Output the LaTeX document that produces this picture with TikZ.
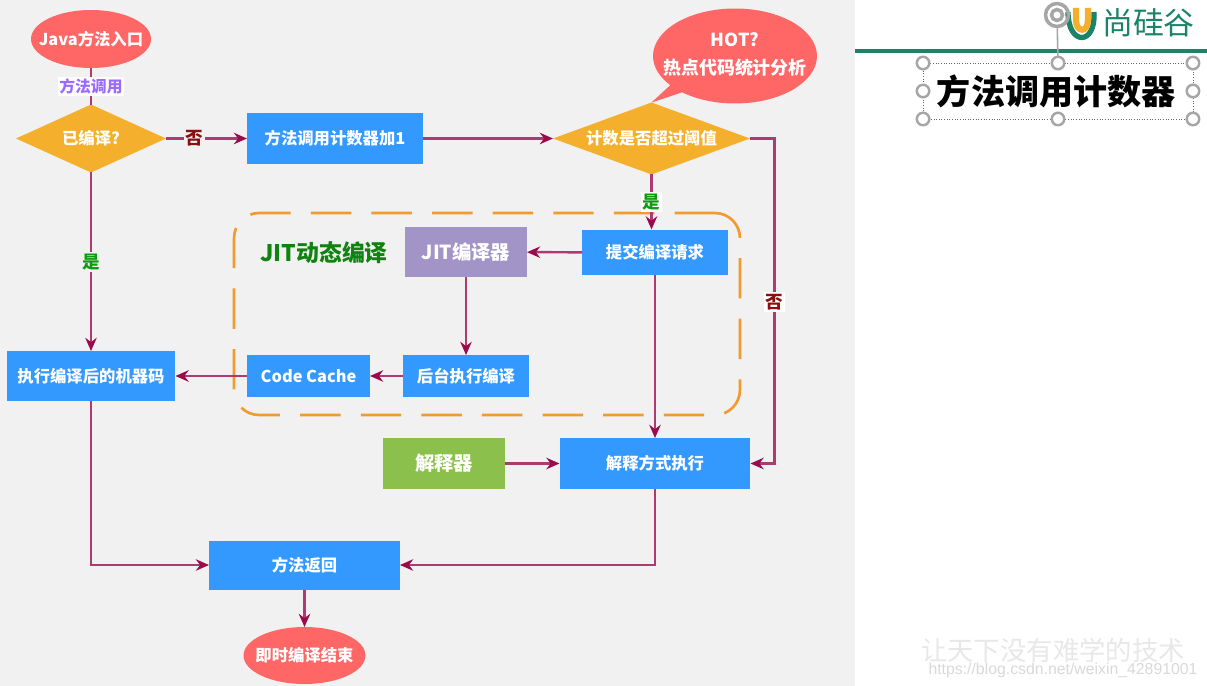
\documentclass[tikz,border=0pt]{standalone}
\usepackage{fontspec}
\setmainfont{Noto Sans CJK SC}
\newfontfamily\urlfont{Liberation Sans}
\usetikzlibrary{arrows.meta}
\usetikzlibrary{shapes.geometric}
\usetikzlibrary{shapes.callouts}
\definecolor{panelgrey}{HTML}{F0F1F0}
\definecolor{boxblue}{HTML}{3399FF}
\definecolor{decisionorange}{HTML}{F4B02D}
\definecolor{endred}{HTML}{FF6666}
\definecolor{jitpurple}{HTML}{A294C6}
\definecolor{interpgreen}{HTML}{8CC04C}
\definecolor{flowline}{HTML}{AE3A72}
\definecolor{flowtip}{HTML}{9B0B4B}
\definecolor{framedash}{HTML}{F29A2E}
\definecolor{logogreen}{HTML}{1A8468}
\definecolor{handlegrey}{HTML}{A6A6A6}
\definecolor{labelviolet}{HTML}{9B6BFF}
\definecolor{labelgreen}{HTML}{119911}
\definecolor{labelred}{HTML}{8A1010}
\newcommand{\fsize}[1]{\bfseries\fontsize{#1}{#1}\selectfont}
\newcommand{\flattext}[1]{\makebox[0pt]{#1}}
\tikzset{
	base/.style={inner sep=0pt, outer sep=0pt, text=white, font=\fsize{9.3}},
	bluebox/.style={base, rectangle, fill=boxblue},
	terminal/.style={base, ellipse, fill=endred},
	decision/.style={base, diamond, shape aspect=2.8, fill=decisionorange},
	flow/.style={draw=flowline, line width=1.4pt, -{Stealth[length=7.5pt, width=6.5pt, color=flowtip]}},
	plainflow/.style={draw=flowline, line width=1.4pt},
	flowlabel/.style={fill=white, inner sep=1pt, font=\fsize{9}},
	handle/.style={circle, draw=handlegrey, fill=white, line width=1.4pt, minimum size=0.25cm, inner sep=0pt}
}
\begin{document}
\begin{tikzpicture}[x=0.02cm, y=-0.02cm]
			\useasboundingbox (0,0) rectangle (1207,686);
			\fill [panelgrey] (0,0) rectangle (855,686);
			\fill [white] (855,0) rectangle (1207,686);
			\node [rectangle, draw=framedash, line width=1.5pt, rounded corners=0.5cm, dash pattern=on 23pt off 11.5pt, minimum width=10.12cm, minimum height=4.04cm, outer sep=0pt] (jitframe) at (487,314) {};
			\node [terminal, minimum width=2.4cm, minimum height=1.16cm] (start) at (91,39) {\flattext{Java方法入口}};
			\node [decision, minimum width=3cm, minimum height=1.36cm] (compiled) at (91,138.5) {已编译?};
			\node [bluebox, minimum width=3.52cm, minimum height=1.02cm] (counter) at (335,138.5) {方法调用计数器加1};
			\node [decision, minimum width=3.94cm, minimum height=1.44cm] (threshold) at (651.5,138.5) {计数是否超过阈值};
			\node [terminal, ellipse callout, callout absolute pointer={(threshold.north)}, callout pointer arc=12, minimum width=3.28cm, minimum height=1.9cm, font=\fsize{10.2}] (hot) at (735,56) {\flattext{\begin{tabular}{@{}c@{}}HOT?\\[4pt]热点代码统计分析\end{tabular}}};
			\node [bluebox, minimum width=2.92cm, minimum height=0.92cm] (submit) at (655,252.5) {提交编译请求};
			\node [base, rectangle, fill=jitpurple, minimum width=2.44cm, minimum height=1cm, font=\fsize{11}] (jit) at (466,252) {JIT编译器};
			\node [base, text=labelgreen!85!black, font=\fsize{13}] (jittitle) at (324,253) {JIT动态编译};
			\node [bluebox, minimum width=2.52cm, minimum height=0.84cm] (backend) at (466,376) {后台执行编译};
			\node [bluebox, minimum width=2.46cm, minimum height=0.84cm] (codecache) at (308.5,376) {Code Cache};
			\node [bluebox, minimum width=3.38cm, minimum height=1cm] (machine) at (91,376) {执行编译后的机器码};
			\node [base, rectangle, fill=interpgreen, minimum width=2.44cm, minimum height=1.02cm, font=\fsize{11}] (interp) at (444,463.5) {解释器};
			\node [bluebox, minimum width=3.82cm, minimum height=1.02cm] (runinterp) at (655,463.5) {解释方式执行};
			\node [bluebox, minimum width=3.82cm, minimum height=0.98cm] (methodret) at (304.5,565) {方法返回};
			\node [terminal, minimum width=2.44cm, minimum height=1.14cm] (finish) at (304.5,655.5) {\flattext{即时编译结束}};
			\coordinate (noturn) at (774.5,302);
			\draw [plainflow] (start) -- (compiled) node [pos=0.5, flowlabel, text=labelviolet] (calllabel) {方法调用};
			\draw [flow] (compiled) -- (counter) node [pos=0.35, flowlabel, text=labelred, fill=panelgrey, font=\fsize{10}] (nolabela) {否};
			\draw [flow] (counter) -- (threshold);
			\draw [flow] (threshold.south) -- (threshold.south |- submit.north) node [pos=0.5, flowlabel, text=labelgreen, font=\fsize{10}] (yeslabela) {是};
			\draw [flow] (compiled.south) -- (machine.north) node [pos=0.5, flowlabel, text=labelgreen, fill=panelgrey, font=\fsize{10}] (yeslabelb) {是};
			\draw [flow] (submit) -- (jit);
			\draw [flow] (jit) -- (backend);
			\draw [flow] (backend) -- (codecache);
			\draw [flow] (codecache) -- (machine);
			\draw [flow] (submit) -- (runinterp);
			\draw [flow] (interp) -- (runinterp);
			\draw [plainflow] (threshold.east) -| (noturn);
			\draw [flow] (noturn) |- (runinterp.east);
			\node [flowlabel, text=labelred, font=\fsize{10}] (nolabelb) at (noturn) {否};
			\draw [flow] (machine.south) |- (methodret.west);
			\draw [flow] (runinterp.south) |- (methodret.east);
			\draw [flow] (methodret) -- (finish);
			\fill [logogreen] (855,49) rectangle (1207,53.5);
			\draw [logogreen, line width=3pt] (1068,12) .. controls (1068,46) and (1096,46) .. (1094,12);
			\draw [decisionorange, line width=3.5pt] (1076,8) -- (1076,20) .. controls (1076,33) and (1088,33) .. (1088,20) -- (1088,8);
			\node [base, text=logogreen, font=\fontsize{17.6}{18}\selectfont] (logotext) at (1148.5,23) {尚硅谷};
			\node [base, rectangle, draw=black!60, densely dotted, line width=0.5pt, text=black, minimum width=5.4cm, minimum height=1.12cm, font=\fsize{19.4}] (title) at (1058,91) {\hspace{-2pt}方法调用计数器\hspace{2pt}};
			\node [circle, draw=handlegrey, fill=none, line width=2pt, minimum size=0.46cm, inner sep=0pt] (rotouter) at (1057,15) {};
			\node [circle, draw=handlegrey, fill=none, line width=2pt, minimum size=0.22cm, inner sep=0pt] (rotinner) at (1057,15) {};
			\draw [handlegrey, line width=0.9pt] (rotouter) -- (title.north);
			\node [handle] (hnw) at (title.north west) {};
			\node [handle] (hn) at (title.north) {};
			\node [handle] (hne) at (title.north east) {};
			\node [handle] (hw) at (title.west) {};
			\node [handle] (he) at (title.east) {};
			\node [handle] (hsw) at (title.south west) {};
			\node [handle] (hs) at (title.south) {};
			\node [handle] (hse) at (title.south east) {};
			\node [base, text=black!9, font=\fontsize{15}{15}\selectfont] (slogan) at (1053,650) {让天下没有难学的技术};
			\node [base, text=black!15, font=\urlfont\fontsize{9}{9}\selectfont] (weburl) at (1063,670) {https://blog.csdn.net/weixin\_42891001};
	\end{tikzpicture}
\end{document}
